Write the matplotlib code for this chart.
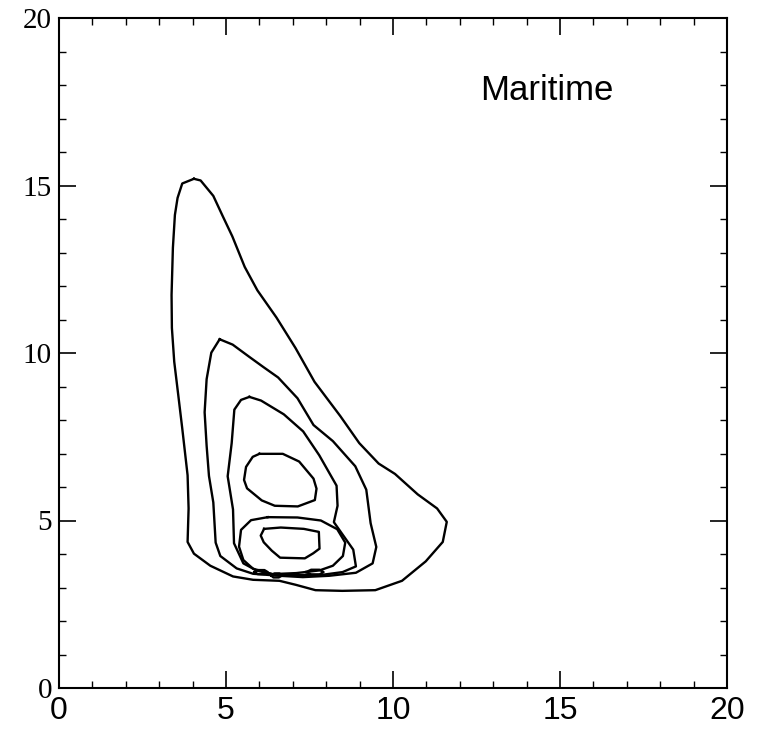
import matplotlib
matplotlib.use("Agg")
import matplotlib.pyplot as plt
from matplotlib.ticker import MultipleLocator
from matplotlib import font_manager

level1_x = [4.04, 4.24, 4.62, 4.90, 5.19, 5.56, 5.94, 6.51, 7.08, 7.65, 8.42, 8.99, 9.57, 10.06,
            10.74, 11.32, 11.61, 11.49, 10.98, 10.27, 9.47, 8.48, 7.68, 7.09, 6.60, 5.81, 5.21,
            4.53, 4.04, 3.85, 3.88, 3.85, 3.69, 3.57, 3.45, 3.38, 3.37, 3.41, 3.47, 3.55, 3.69]
level1_y = [15.20, 15.15, 14.69, 14.09, 13.48, 12.57, 11.87, 11.06, 10.15, 9.14, 8.12, 7.31, 6.70,
            6.39, 5.78, 5.36, 4.96, 4.36, 3.78, 3.20, 2.92, 2.90, 2.92, 3.08, 3.20, 3.23, 3.33,
            3.65, 4.01, 4.36, 5.36, 6.35, 7.75, 8.75, 9.74, 10.75, 11.73, 13.14, 14.12, 14.63, 15.06]

level2_x = [4.81, 5.20, 5.69, 6.12, 6.56, 7.14, 7.62, 8.20, 8.87, 9.20, 9.33, 9.50, 9.39, 8.89,
            8.09, 7.30, 6.60, 5.81, 5.32, 4.83, 4.69, 4.62, 4.49, 4.42, 4.36, 4.42, 4.56]
level2_y = [10.41, 10.25, 9.89, 9.58, 9.27, 8.65, 7.85, 7.37, 6.62, 5.92, 4.92, 4.21, 3.72, 3.44,
            3.35, 3.31, 3.35, 3.41, 3.57, 3.94, 4.34, 5.54, 6.33, 7.23, 8.23, 9.22, 10.01]

level3_x = [5.70, 6.05, 6.73, 7.31, 7.79, 8.31, 8.34, 8.23, 8.52, 8.81, 8.89, 8.49, 7.89, 7.00,
            6.40, 5.91, 5.52, 5.24, 5.21, 5.05, 5.17, 5.25, 5.45]
level3_y = [8.69, 8.58, 8.17, 7.66, 6.95, 6.04, 5.44, 4.95, 4.54, 4.13, 3.63, 3.46, 3.38, 3.37,
            3.39, 3.51, 3.72, 4.32, 5.33, 6.32, 7.31, 8.31, 8.60]

level4a_x = [6.00, 6.70, 7.19, 7.62, 7.71, 7.66, 7.15, 6.46, 6.07, 5.63, 5.54, 5.60, 5.80]
level4a_y = [6.99, 6.99, 6.76, 6.25, 5.95, 5.61, 5.42, 5.44, 5.60, 5.96, 6.21, 6.60, 6.90]

level4b_x = [6.25, 7.14, 7.84, 8.33, 8.57, 8.50, 8.20, 7.80, 7.10, 6.40, 5.81, 5.52, 5.39, 5.45, 5.75]
level4b_y = [5.10, 5.09, 5.00, 4.74, 4.34, 3.94, 3.65, 3.51, 3.43, 3.40, 3.56, 3.82, 4.22, 4.72, 5.01]

level5_x = [6.14, 6.64, 7.33, 7.78, 7.80, 7.61, 7.36, 6.62, 6.37, 6.13, 6.04]
level5_y = [4.75, 4.79, 4.75, 4.66, 4.16, 4.02, 3.87, 3.89, 4.10, 4.35, 4.55]

blob1_x = [5.85, 5.95, 6.15, 6.25, 6.15, 5.95]
blob1_y = [3.46, 3.52, 3.52, 3.46, 3.40, 3.40]
blob2_x = [6.35, 6.45, 6.60, 6.68, 6.58, 6.42]
blob2_y = [3.36, 3.42, 3.42, 3.36, 3.30, 3.30]
blob3_x = [7.40, 7.55, 7.80, 7.92, 7.80, 7.55]
blob3_y = [3.46, 3.53, 3.53, 3.46, 3.39, 3.39]

contours = [(level1_x, level1_y), (level2_x, level2_y), (level3_x, level3_y),
            (level4a_x, level4a_y), (level4b_x, level4b_y), (level5_x, level5_y),
            (blob1_x, blob1_y), (blob2_x, blob2_y), (blob3_x, blob3_y)]

x_ticks = [0, 5, 10, 15, 20]
y_ticks = [0, 5, 10, 15, 20]
title_text = "Maritime"

# ---- fonts ----
names = {f.name for f in font_manager.fontManager.ttflist}
x_font = "Liberation Sans Narrow" if "Liberation Sans Narrow" in names else "Liberation Sans"

fig = plt.figure(figsize=(7.63, 7.39), dpi=100)
ax = fig.add_axes([59 / 763, 1 - 688 / 739, (727 - 59) / 763, (688 - 18) / 739])

for cx, cy in contours:
    ax.plot(list(cx) + [cx[0]], list(cy) + [cy[0]], color="black", lw=1.7,
            solid_joinstyle="round")

ax.set_xlim(0, 20)
ax.set_ylim(0, 20)
ax.xaxis.set_minor_locator(MultipleLocator(1))
ax.yaxis.set_minor_locator(MultipleLocator(1))
ax.set_xticks(x_ticks)
ax.set_yticks(y_ticks)
ax.set_xticklabels([str(t) for t in x_ticks], fontfamily=x_font, fontsize=23)
ax.set_yticklabels([str(t) for t in y_ticks], fontfamily="Liberation Serif", fontsize=21)
ax.tick_params(which="major", direction="in", length=12, width=1.2,
               top=True, right=True)
ax.tick_params(which="minor", direction="in", length=5, width=1.0,
               top=True, right=True)
ax.tick_params(axis="x", which="major", pad=6)
ax.tick_params(axis="y", which="major", pad=5)
for s in ax.spines.values():
    s.set_linewidth(1.5)

ax.text(0.63, 0.877, title_text, transform=ax.transAxes, fontsize=25,
        fontfamily="Liberation Sans", va="baseline", ha="left")

fig.savefig("out.png", dpi=100)
